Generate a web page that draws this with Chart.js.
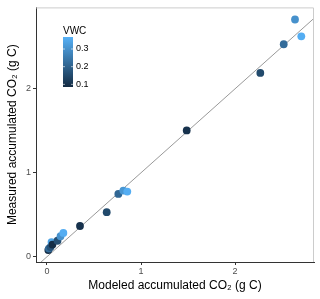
<!DOCTYPE html>
<html>
<head>
<meta charset="utf-8">
<script src="https://cdn.jsdelivr.net/npm/chart.js@4"></script>
<style>
  html, body { margin: 0; padding: 0; background: #fff; }
  #wrap { width: 320px; height: 299px; }
</style>
</head>
<body>
<div id="wrap"><canvas id="c"></canvas></div>
<script>
// modeled vs measured accumulated CO2, coloured by VWC
const modeled  = [0.014, 0.020, 0.037, 0.048, 0.058, 0.112, 0.144, 0.174, 0.351, 0.635, 0.759, 0.812, 0.854, 1.486, 2.269, 2.518, 2.638, 2.705];
const measured = [0.079, 0.097, 0.115, 0.174, 0.144, 0.190, 0.244, 0.283, 0.366, 0.531, 0.748, 0.788, 0.776, 1.504, 2.189, 2.531, 2.826, 2.626];
const vwc      = [0.09, 0.22, 0.17, 0.34, 0.09, 0.16, 0.30, 0.36, 0.10, 0.15, 0.21, 0.31, 0.36, 0.10, 0.15, 0.22, 0.30, 0.36];

const oneToOne = [-0.5, 3.5];
const tickValues = [0, 1, 2];
const vwcTicks = [0.1, 0.2, 0.3];
const vwcMin = 0.085, vwcMax = 0.368;

const lowCol = [19, 43, 67];
const highCol = [86, 177, 247];

function vwcColor(v) {
  let t = (v - vwcMin) / (vwcMax - vwcMin);
  t = Math.max(0, Math.min(1, t));
  const c = lowCol.map((a, i) => Math.round(a + (highCol[i] - a) * t));
  return `rgb(${c[0]},${c[1]},${c[2]})`;
}

const points = modeled.map((x, i) => ({ x: x, y: measured[i] }));
const pointColors = vwc.map(vwcColor);

// light grey box on top/right + colourbar legend
const extras = {
  id: 'extras',
  afterDraw(chart) {
    const ctx = chart.ctx;
    const a = chart.chartArea;
    ctx.save();
    ctx.strokeStyle = '#cccccc';
    ctx.lineWidth = 1;
    ctx.beginPath();
    ctx.moveTo(a.left, a.top + 0.5);
    ctx.lineTo(a.right - 0.5, a.top + 0.5);
    ctx.lineTo(a.right - 0.5, a.bottom);
    ctx.stroke();

    // colourbar
    const bx = 63, bw = 10, bTop = 37, bBot = 87;
    const g = ctx.createLinearGradient(0, bBot, 0, bTop);
    g.addColorStop(0, vwcColor(vwcMin));
    g.addColorStop(1, vwcColor(vwcMax));
    ctx.fillStyle = g;
    ctx.fillRect(bx, bTop, bw, bBot - bTop);
    ctx.fillStyle = '#000';
    ctx.font = '10px "Liberation Sans", Arial, sans-serif';
    ctx.textBaseline = 'alphabetic';
    ctx.textAlign = 'left';
    ctx.fillText('VWC', 63, 34);
    ctx.font = '9px "Liberation Sans", Arial, sans-serif';
    ctx.textBaseline = 'middle';
    vwcTicks.forEach(v => {
      const y = bBot - (v - vwcMin) / (vwcMax - vwcMin) * (bBot - bTop);
      ctx.strokeStyle = 'rgba(255,255,255,0.6)';
      ctx.beginPath();
      ctx.moveTo(bx, y); ctx.lineTo(bx + 2, y);
      ctx.moveTo(bx + bw - 2, y); ctx.lineTo(bx + bw, y);
      ctx.stroke();
      ctx.fillStyle = '#000';
      ctx.fillText(v.toFixed(1), 76, y);
    });
    ctx.restore();
  }
};

const fixedTicks = scale => { scale.ticks = tickValues.map(v => ({ value: v })); };

new Chart(document.getElementById('c'), {
  type: 'scatter',
  data: {
    datasets: [
      {
        type: 'line',
        data: oneToOne.map(v => ({ x: v, y: v })),
        borderColor: '#999999',
        borderWidth: 1,
        pointRadius: 0,
        order: 2
      },
      {
        data: points,
        backgroundColor: pointColors,
        borderWidth: 0,
        pointRadius: 3.9,
        order: 1
      }
    ]
  },
  options: {
    responsive: true,
    maintainAspectRatio: false,
    animation: false,
    layout: { padding: { top: 5, right: 6, left: 0, bottom: 0 } },
    plugins: { legend: { display: false }, tooltip: { enabled: false } },
    scales: {
      x: {
        type: 'linear',
        min: -0.117,
        max: 2.84,
        afterBuildTicks: fixedTicks,
        afterFit: s => { s.height = 37; },
        grid: { drawOnChartArea: false, drawTicks: true, tickLength: 3, color: '#333333' },
        border: { color: '#333333', width: 1 },
        ticks: { color: '#4d4d4d', font: { size: 9, family: '"Liberation Sans", Arial' }, padding: 1, maxRotation: 0 },
        title: {
          display: true,
          text: 'Modeled accumulated CO₂ (g C)',
          color: '#000',
          font: { size: 12, family: '"Liberation Sans", Arial' },
          padding: { top: 0, bottom: 6 }
        }
      },
      y: {
        type: 'linear',
        min: -0.063,
        max: 2.97,
        afterBuildTicks: fixedTicks,
        afterFit: s => { s.width = 36; },
        grid: { drawOnChartArea: false, drawTicks: true, tickLength: 3, color: '#333333' },
        border: { color: '#333333', width: 1 },
        ticks: { color: '#4d4d4d', font: { size: 9, family: '"Liberation Sans", Arial' }, padding: 2 },
        title: {
          display: true,
          text: 'Measured accumulated CO₂ (g C)',
          color: '#000',
          font: { size: 12, family: '"Liberation Sans", Arial' },
          padding: { top: 5, bottom: 0 }
        }
      }
    }
  },
  plugins: [extras]
});
</script>
</body>
</html>
